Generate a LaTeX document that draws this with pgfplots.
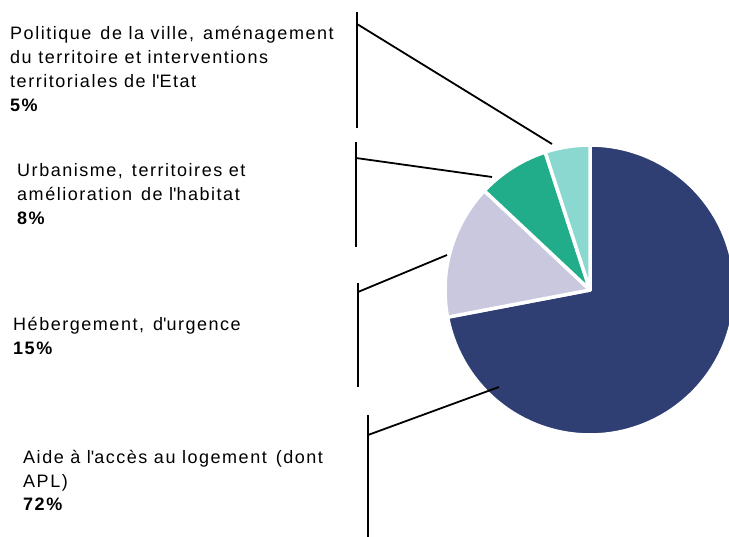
\documentclass[border=0pt]{standalone}
\usepackage{pgfplots}
\pgfplotsset{compat=1.18}
\usepackage{fontspec}
\setmainfont{Liberation Sans}[LetterSpace=8.5]
\definecolor{cnavy}{HTML}{2F3F73}
\definecolor{clav}{HTML}{C9C8DF}
\definecolor{cgreen}{HTML}{22AD8A}
\definecolor{cteal}{HTML}{8AD8CF}
% shares (percent)
\def\pa{72}\def\pb{15}\def\pc{8}\def\pd{5}
\pgfmathsetmacro{\aA}{90-3.6*\pa}
\pgfmathsetmacro{\aB}{\aA-3.6*\pb}
\pgfmathsetmacro{\aC}{\aB-3.6*\pc}
\pgfmathsetmacro{\aD}{\aC-3.6*\pd}
\newcommand{\lab}[3]{\node[anchor=base west,inner sep=0pt,font=\fontsize{18}{24}\selectfont] at (axis cs:#1,#2) {#3};}
\newcommand{\ds}{\hspace{0.5em}}
\newcommand{\q}{\textquotesingle}
\begin{document}
\begin{tikzpicture}
\begin{axis}[width=729pt,height=537pt,scale only axis,
  xmin=0,xmax=729,ymin=0,ymax=537,y dir=reverse,
  axis lines=none,ticks=none,clip=true]
\def\cx{590}\def\cy{290}\def\R{145}
\addplot[fill=cnavy,draw=white,line width=3.5pt,line join=round,domain=\aA:90,samples=150,variable=\t]
  ({\cx+\R*cos(\t)},{\cy-\R*sin(\t)}) -- (axis cs:\cx,\cy) -- cycle;
\addplot[fill=clav,draw=white,line width=3.5pt,line join=round,domain=\aB:\aA,samples=40,variable=\t]
  ({\cx+\R*cos(\t)},{\cy-\R*sin(\t)}) -- (axis cs:\cx,\cy) -- cycle;
\addplot[fill=cgreen,draw=white,line width=3.5pt,line join=round,domain=\aC:\aB,samples=30,variable=\t]
  ({\cx+\R*cos(\t)},{\cy-\R*sin(\t)}) -- (axis cs:\cx,\cy) -- cycle;
\addplot[fill=cteal,draw=white,line width=3.5pt,line join=round,domain=\aD:\aC,samples=30,variable=\t]
  ({\cx+\R*cos(\t)},{\cy-\R*sin(\t)}) -- (axis cs:\cx,\cy) -- cycle;
% leader lines
\addplot[black,line width=1.8pt] coordinates {(357,12) (357,128)};
\addplot[black,line width=1.8pt] coordinates {(357,24) (552,144)};
\addplot[black,line width=1.8pt] coordinates {(356,142) (356,247)};
\addplot[black,line width=1.8pt] coordinates {(356,158) (492,177)};
\addplot[black,line width=1.8pt] coordinates {(358,283) (358,387)};
\addplot[black,line width=1.8pt] coordinates {(358,292) (447,255)};
\addplot[black,line width=1.8pt] coordinates {(368,415) (368,537)};
\addplot[black,line width=1.8pt] coordinates {(368,435) (499,387)};
% labels
\lab{10}{40}{Politique\ds de la ville,\ds aménagement}
\lab{10}{64}{du territoire et interventions}
\lab{10}{88}{territoriales de l\q Etat}
\lab{10}{112}{\bfseries 5\%}
\lab{17}{177}{Urbanisme,\ds territoires et}
\lab{17}{201}{amélioration\ds de l\q habitat}
\lab{17}{225}{\bfseries 8\%}
\lab{13}{331}{Hébergement,\ds d\q urgence}
\lab{13}{355}{\bfseries 15\%}
\lab{23}{464}{Aide à l\q accès au logement\ds (dont}
\lab{23}{487}{APL)}
\lab{23}{511}{\bfseries 72\%}
\end{axis}
\pgfresetboundingbox
\useasboundingbox (current axis.south west) rectangle (current axis.north east);
\end{tikzpicture}
\end{document}
